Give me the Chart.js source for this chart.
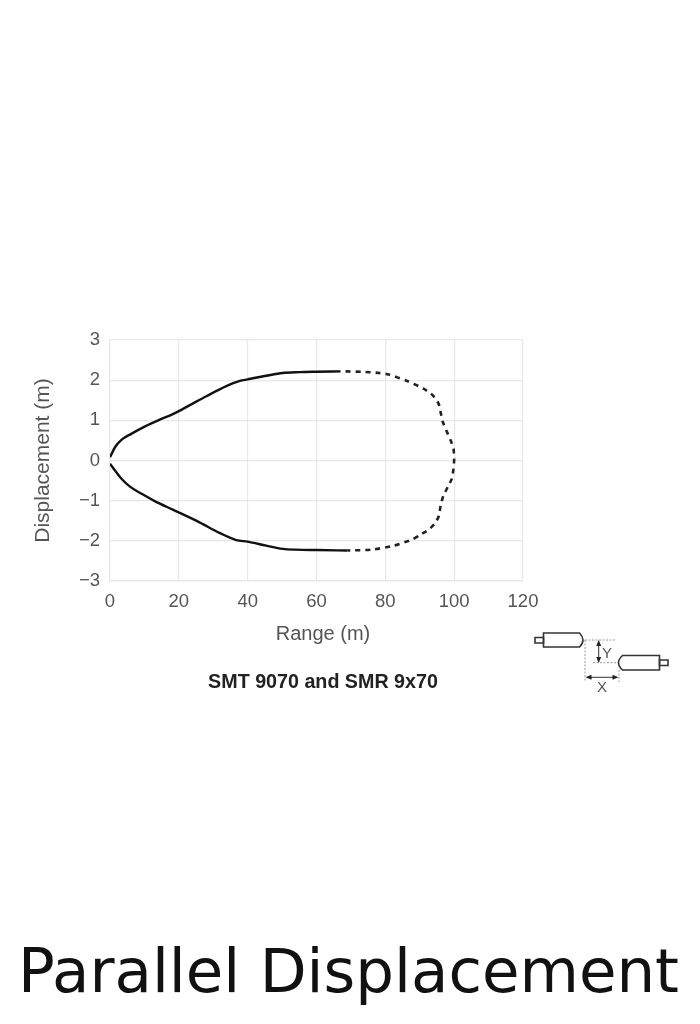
<!DOCTYPE html>
<html>
<head>
<meta charset="utf-8">
<title>Parallel Displacement</title>
<script src="https://cdn.jsdelivr.net/npm/chart.js@4"></script>
<style>
html, body { margin: 0; background: #fff; }
#wrap { position: relative; width: 700px; height: 1024px; overflow: hidden; }
#chart { position: absolute; left: 0; top: 0; }
#rangeLabel { position: absolute; left: 223px; width: 200px; top: 622px; text-align: center;
  font: 20px "Liberation Sans", sans-serif; color: #555; white-space: nowrap; }
#caption { position: absolute; left: 108px; width: 430px; top: 670px; text-align: center;
  font: bold 19.7px "Liberation Sans", sans-serif; color: #222; white-space: nowrap; }
#bigtitle { position: absolute; left: 0; width: 697px; top: 935px; text-align: center;
  font: 61px "DejaVu Sans", sans-serif; color: #111; white-space: nowrap; }
#icon { position: absolute; left: 0; top: 0; }
</style>
</head>
<body>
<div id="wrap">
  <canvas id="chart" width="700" height="1024"></canvas>
  <div id="rangeLabel">Range (m)</div>
  <div id="caption">SMT 9070 and SMR 9x70</div>
  <div id="bigtitle">Parallel Displacement</div>
  <svg id="icon" width="700" height="1024" fill="none" stroke="#333" stroke-width="1.6">
    <path d="M535 637.500h8.500v5.500h-8.500z"/>
    <path d="M543.500 633h36q7 7.200 0 14h-36z"/>
    <path d="M659.500 660h8.500v5.500h-8.500z"/>
    <path d="M659.500 655.500h-37q-8 7.200 0 14.500h37z"/>
    <g stroke="#999" stroke-width="1" stroke-dasharray="2 1.500">
      <path d="M585 640h30M593 662.700h25M585 640v42M619 670v12"/>
    </g>
    <path d="M598.700 642v19M588 677.300h28" stroke="#333" stroke-width="1"/>
    <path d="M598.700 640l-2.500 6h5zM598.700 663l-2.500 -6h5zM585.500 677.300l6 -2.500v5zM618.500 677.300l-6 -2.500v5z" fill="#222" stroke="none"/>
    <text x="602" y="658" font-family="Liberation Sans" font-size="15" fill="#555" stroke="none">Y</text>
    <text x="597" y="692" font-family="Liberation Sans" font-size="15" fill="#555" stroke="none">X</text>
  </svg>
</div>
<script>
var xTicks = [0, 20, 40, 60, 80, 100, 120];
var yTicks = [-3, -2, -1, 0, 1, 2, 3];

var upperX = [0, 1.45, 3.4, 6.3, 10.2, 14, 18.4, 23.2, 28, 33.8, 37.7, 40, 45.4, 50.2, 55, 60, 67];
var upperY = [0.08, 0.33, 0.52, 0.67, 0.85, 1.0, 1.16, 1.38, 1.6, 1.85, 1.98, 2.02, 2.11, 2.18, 2.2, 2.21, 2.22];

var lowerX = [0, 1.45, 3.4, 5.8, 9.2, 13, 18.4, 26, 32, 36.7, 40, 45.4, 50.2, 54, 60, 69];
var lowerY = [-0.08, -0.25, -0.46, -0.65, -0.83, -1.01, -1.23, -1.54, -1.81, -1.98, -2.02, -2.12, -2.2, -2.22, -2.23, -2.24];

var farX = [67, 73, 78.2, 81, 86.3, 91.1, 93.8, 95.5, 96.1, 96.7, 97.7, 99, 99.8, 100, 99.8, 99.3, 98.2, 96.9, 96.1, 95.6, 94.5, 92.5, 90.1, 88, 82.5, 76, 69];
var farY = [2.22, 2.21, 2.18, 2.14, 1.98, 1.79, 1.62, 1.41, 1.19, 0.96, 0.75, 0.5, 0.29, 0.04, -0.21, -0.46, -0.65, -0.87, -1.1, -1.37, -1.56, -1.73, -1.85, -1.96, -2.12, -2.22, -2.24];

function pts(xs, ys) {
	return xs.map(function (x, i) { return { x: x, y: ys[i] }; });
}

var grey = '#555555';
var gridCol = '#e8e8e8';

new Chart(document.getElementById('chart').getContext('2d'), {
	type: 'scatter',
	data: {
		datasets: [
			{ data: pts(upperX, upperY), showLine: true, borderColor: '#111', borderWidth: 2.4, pointRadius: 0, cubicInterpolationMode: 'monotone' },
			{ data: pts(lowerX, lowerY), showLine: true, borderColor: '#111', borderWidth: 2.4, pointRadius: 0, cubicInterpolationMode: 'monotone' },
			{ data: pts(farX, farY), showLine: true, borderColor: '#222', borderWidth: 2.6, borderDash: [5, 5], borderDashOffset: 5, pointRadius: 0, tension: 0.2 }
		]
	},
	options: {
		responsive: false,
		animation: false,
		layout: { padding: { left: 31, top: 340, right: 177, bottom: 379 } },
		plugins: { legend: { display: false }, tooltip: { enabled: false } },
		scales: {
			x: {
				type: 'linear',
				min: 0,
				max: 120,
				afterBuildTicks: function (axis) { axis.ticks = xTicks.map(function (v) { return { value: v }; }); },
				afterFit: function (axis) { axis.height = 64; },
				grid: { color: gridCol, lineWidth: 1.2, drawTicks: false },
				border: { color: gridCol, width: 1.2 },
				ticks: { color: grey, padding: 10, maxRotation: 0, font: { family: 'Liberation Sans', size: 18.5 } }
			},
			y: {
				type: 'linear',
				min: -3,
				max: 3,
				afterBuildTicks: function (axis) { axis.ticks = yTicks.map(function (v) { return { value: v }; }); },
				afterFit: function (axis) { axis.width = 79; },
				grid: { color: gridCol, lineWidth: 1.2, drawTicks: false },
				border: { color: gridCol, width: 1.2 },
				ticks: {
					color: grey,
					padding: 10,
					font: { family: 'Liberation Sans', size: 18.5 },
					callback: function (v) { return String(v).replace('-', '\u2212'); }
				},
				title: { display: true, text: 'Displacement (m)', color: grey, padding: 0, font: { family: 'Liberation Sans', size: 21 } }
			}
		}
	}
});
</script>
</body>
</html>
